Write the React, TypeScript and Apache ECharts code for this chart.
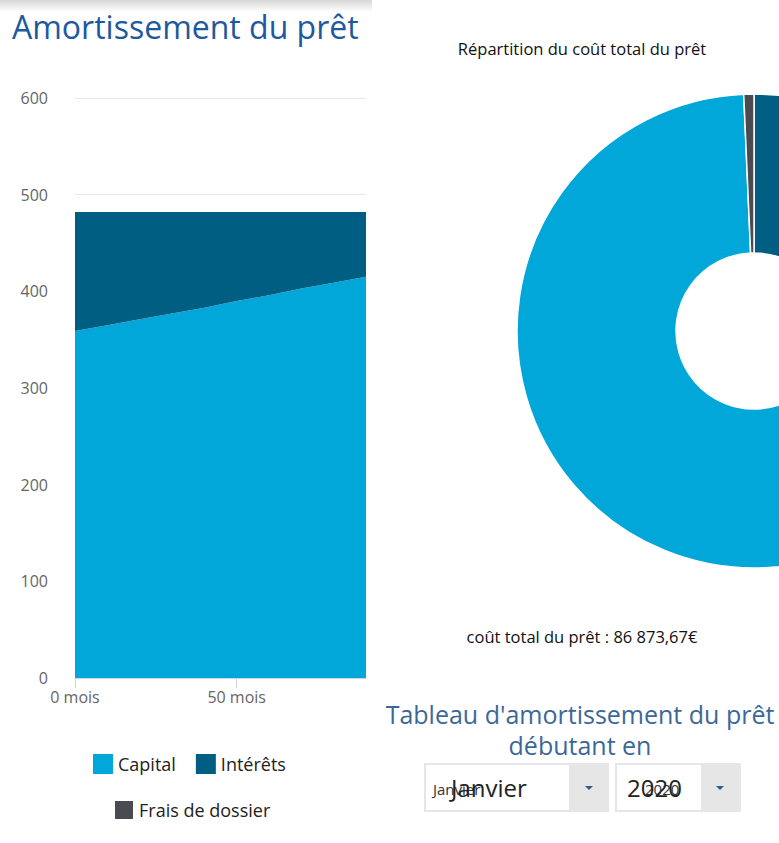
import React, { useEffect, useRef } from "react";
import * as echarts from "echarts";

const months = ["0", "10", "20", "30", "40", "50", "60", "70", "80", "90"];
const capital = [359, 365, 371, 377, 383, 390, 396, 403, 409, 415];
const interets = [123, 117, 111, 105, 99, 92, 86, 79, 73, 67];

const pieNames = ["Intérêts", "Capital", "Frais de dossier"];
const pieValues = [11273.67, 75000, 600];

const yTicks = [0, 100, 200, 300, 400, 500, 600];
const xTicks = ["0", "50"];

const C_LIGHT = "#00a7d8";
const C_DARK = "#005e82";
const C_GRAY = "#4a4a53";
const FONT = "Open Sans";

export default function App() {
  const ref = useRef<HTMLDivElement>(null);
  useEffect(() => {
    if (!ref.current) return;
    const chart = echarts.init(ref.current, null, { renderer: "svg" });
    const colors: Record<string, string> = {
      Capital: C_LIGHT,
      "Intérêts": C_DARK,
      "Frais de dossier": C_GRAY,
    };
    const showTick = (_i: number, v: string) => xTicks.includes(v);
    chart.setOption({
      animation: false,
      textStyle: { fontFamily: FONT },
      grid: { left: 75, top: 98, width: 291, height: 580, containLabel: false },
      xAxis: {
        type: "category",
        data: months,
        boundaryGap: false,
        axisLine: { show: true, lineStyle: { color: "#ccd6eb", width: 1 } },
        axisTick: { show: true, length: 10, interval: showTick, lineStyle: { color: "#ccd6eb" } },
        splitLine: { show: false },
        axisLabel: {
          color: "#666",
          fontSize: 16,
          margin: 11,
          interval: showTick,
          formatter: (v: string) => v + " mois",
        },
      },
      yAxis: {
        type: "value",
        min: yTicks[0],
        max: yTicks[yTicks.length - 1],
        interval: 100,
        axisLine: { show: false },
        axisTick: { show: false },
        splitLine: { lineStyle: { color: "#e6e6e6" } },
        axisLabel: { color: "#666", fontSize: 16, margin: 27 },
      },
      legend: [
        {
          data: ["Capital", "Intérêts"],
          left: 88,
          top: 749,
          icon: "rect",
          itemWidth: 20,
          itemHeight: 20,
          itemGap: 20,
          textStyle: { fontSize: 18, color: "#222", fontFamily: FONT },
        },
        {
          data: ["Frais de dossier"],
          left: 108,
          top: 794,
          icon: "rect",
          itemWidth: 20,
          itemHeight: 20,
          textStyle: { fontSize: 18, color: "#222", fontFamily: FONT },
        },
      ],
      series: [
        {
          name: "Capital",
          type: "line",
          stack: "a",
          color: C_LIGHT,
          data: capital,
          showSymbol: false,
          lineStyle: { width: 0 },
          areaStyle: { color: C_LIGHT, opacity: 1 },
          itemStyle: { color: C_LIGHT },
        },
        {
          name: "Intérêts",
          type: "line",
          stack: "a",
          color: C_DARK,
          data: interets,
          showSymbol: false,
          lineStyle: { width: 0 },
          areaStyle: { color: C_DARK, opacity: 1 },
          itemStyle: { color: C_DARK },
        },
        {
          name: "Répartition",
          type: "pie",
          center: [754, 331],
          radius: [78, 237],
          startAngle: 90,
          clockwise: true,
          label: { show: false },
          labelLine: { show: false },
          emphasis: { disabled: true },
          itemStyle: { borderColor: "#fff", borderWidth: 1.5 },
          data: pieNames.map((n, i) => ({
            name: n,
            value: pieValues[i],
            itemStyle: { color: colors[n] },
          })),
        },
      ],
      graphic: [
        {
          type: "rect",
          shape: { x: 0, y: 0, width: 372, height: 12 },
          style: {
            fill: new echarts.graphic.LinearGradient(0, 0, 0, 1, [
              { offset: 0, color: "rgba(0,0,0,0.16)" },
              { offset: 1, color: "rgba(0,0,0,0)" },
            ]),
          },
        },
        {
          type: "text",
          x: 12,
          y: 10,
          style: {
            text: "Amortissement du prêt",
            font: `normal 32px "${FONT}"`,
            fill: "#1e59a0",
          },
        },
        {
          type: "text",
          x: 582,
          y: 48,
          style: {
            text: "Répartition du coût total du prêt",
            font: `16.5px "${FONT}"`,
            fill: "#111",
            textAlign: "center",
            textVerticalAlign: "middle",
          },
        },
        {
          type: "text",
          x: 582,
          y: 636,
          style: {
            text: "coût total du prêt : 86 873,67€",
            font: `16.5px "${FONT}"`,
            fill: "#111",
            textAlign: "center",
            textVerticalAlign: "middle",
          },
        },
        {
          type: "text",
          x: 580,
          y: 714,
          style: {
            text: "Tableau d'amortissement du prêt",
            font: `25px "${FONT}"`,
            fill: "#3b6898",
            textAlign: "center",
            textVerticalAlign: "middle",
          },
        },
        {
          type: "text",
          x: 580,
          y: 745,
          style: {
            text: "débutant en",
            font: `25px "${FONT}"`,
            fill: "#3b6898",
            textAlign: "center",
            textVerticalAlign: "middle",
          },
        },
        { type: "rect", shape: { x: 424, y: 763, width: 185, height: 49 }, style: { fill: "#e6e6e6" } },
        { type: "rect", shape: { x: 426, y: 765, width: 143, height: 45 }, style: { fill: "#fff" } },
        { type: "rect", shape: { x: 615, y: 763, width: 126, height: 49 }, style: { fill: "#e6e6e6" } },
        { type: "rect", shape: { x: 617, y: 765, width: 84, height: 45 }, style: { fill: "#fff" } },
        {
          type: "polygon",
          shape: { points: [[585, 786], [593, 786], [589, 790]] },
          style: { fill: "#2a5c8e" },
        },
        {
          type: "polygon",
          shape: { points: [[716, 786], [724, 786], [720, 790]] },
          style: { fill: "#2a5c8e" },
        },
        {
          type: "text",
          x: 433,
          y: 789,
          style: { text: "Janvier", font: `15px "${FONT}"`, fill: "#333", textVerticalAlign: "middle" },
        },
        {
          type: "text",
          x: 451,
          y: 787,
          style: { text: "Janvier", font: `24px "${FONT}"`, fill: "#222", textVerticalAlign: "middle" },
        },
        {
          type: "text",
          x: 645,
          y: 789,
          style: { text: "2020", font: `15px "${FONT}"`, fill: "#333", textVerticalAlign: "middle" },
        },
        {
          type: "text",
          x: 627,
          y: 787,
          style: { text: "2020", font: `24px "${FONT}"`, fill: "#222", textVerticalAlign: "middle" },
        },
      ],
    });
    return () => chart.dispose();
  }, []);
  return (
    <div
      ref={ref}
      style={{ position: "absolute", left: 0, top: 0, width: 779, height: 843, background: "#fff" }}
    />
  );
}
